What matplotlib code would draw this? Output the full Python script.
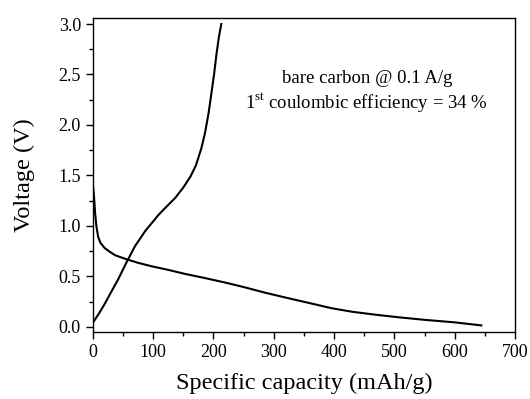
import matplotlib
matplotlib.use("Agg")
import matplotlib.pyplot as plt
from matplotlib.ticker import MultipleLocator, FormatStrFormatter

plt.rcParams['font.family'] = ['Liberation Serif', 'DejaVu Serif']
plt.rcParams['mathtext.fontset'] = 'custom'
plt.rcParams['mathtext.rm'] = 'Liberation Serif'

# Discharge (lithiation) curve
discharge_cap = [0, 2, 4, 6, 9, 13, 20, 28, 37, 56, 75, 98, 125, 153, 185, 219, 250, 285, 320, 360, 396, 430, 470, 506, 550, 600, 644]
discharge_v = [1.42, 1.30, 1.12, 1.00, 0.89, 0.83, 0.78, 0.745, 0.71, 0.67, 0.635, 0.60, 0.565, 0.525, 0.485, 0.44, 0.395, 0.34, 0.29, 0.235, 0.185, 0.15, 0.12, 0.096, 0.07, 0.045, 0.015]

# Charge (delithiation) curve
charge_cap = [0, 10, 20, 30, 42, 56, 63, 70, 78, 87, 98, 109, 122, 137, 150, 162, 171, 180, 186, 192, 197, 201, 205, 209, 213]
charge_v = [0.04, 0.13, 0.23, 0.34, 0.47, 0.64, 0.72, 0.80, 0.87, 0.95, 1.03, 1.11, 1.19, 1.28, 1.38, 1.49, 1.60, 1.77, 1.92, 2.12, 2.33, 2.50, 2.70, 2.87, 3.0]

fig = plt.figure(figsize=(5.3, 3.99), dpi=100)
ax = fig.add_axes([0.175, 0.168, 0.797, 0.787])

ax.plot(discharge_cap, discharge_v, color='black', lw=1.5)
ax.plot(charge_cap, charge_v, color='black', lw=1.5)

ax.set_xlim(0, 700)
ax.set_ylim(-0.05, 3.06)
ax.xaxis.set_major_locator(MultipleLocator(100))
ax.xaxis.set_minor_locator(MultipleLocator(50))
ax.yaxis.set_major_locator(MultipleLocator(0.5))
ax.yaxis.set_minor_locator(MultipleLocator(0.25))
ax.yaxis.set_major_formatter(FormatStrFormatter('%.1f'))
ax.tick_params(which='both', direction='out', top=False, right=False, labelsize=13)
ax.tick_params(which='major', length=5, width=1)
ax.tick_params(which='minor', length=3, width=1)
for s in ax.spines.values():
    s.set_linewidth(1.0)

ax.set_xlabel('Specific capacity (mAh/g)', fontsize=17.5, labelpad=9)
ax.set_ylabel('Voltage (V)', fontsize=17.5, labelpad=17)

ax.text(0.649, 0.808, 'bare carbon @ 0.1 A/g', transform=ax.transAxes,
        ha='center', va='center', fontsize=13.5)
ax.text(0.647, 0.728, r'1$^{\mathrm{st}}$ coulombic efficiency = 34 %', transform=ax.transAxes,
        ha='center', va='center', fontsize=13.5)

fig.savefig('out.png', dpi=100)
